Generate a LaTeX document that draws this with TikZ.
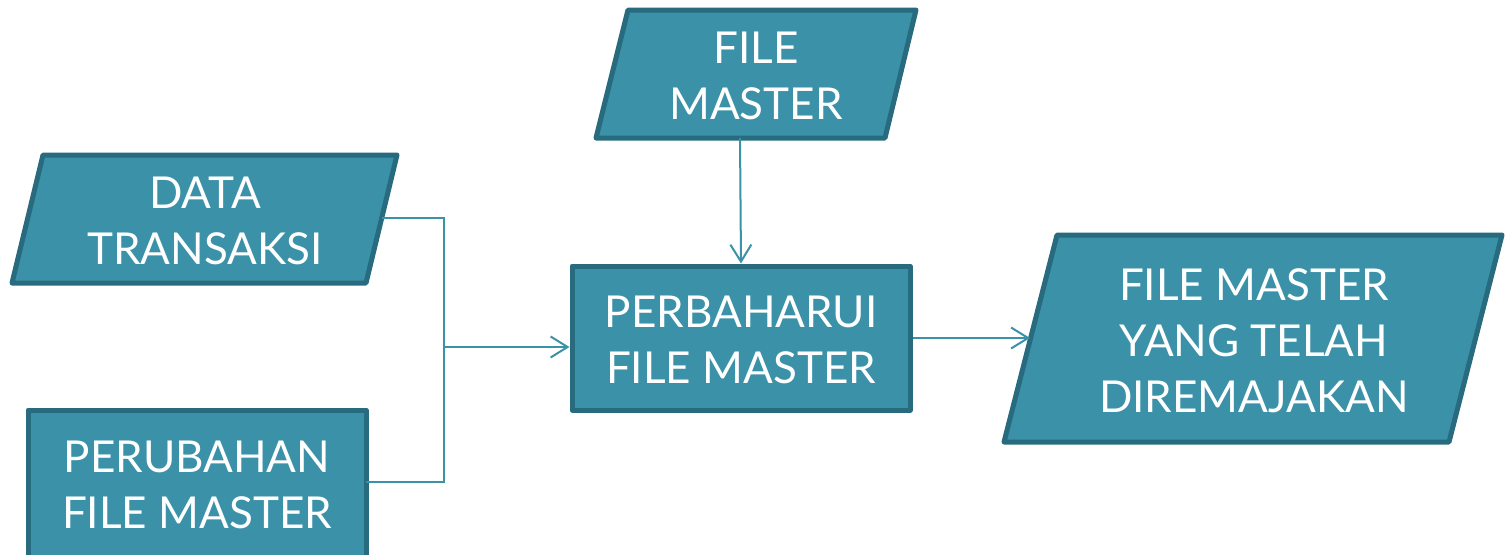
\documentclass[tikz,border=0pt]{standalone}
\usepackage{fontspec}
\setmainfont{Lato}
\usetikzlibrary{arrows.meta,calc}
\definecolor{fillc}{RGB}{58,145,168}
\definecolor{edgec}{RGB}{40,106,126}
\definecolor{linec}{RGB}{58,145,168}
\tikzset{
  shp/.style={fill=fillc,draw=edgec,line width=5pt,line join=round},
  lbl/.style={text=white,align=center,font=\fontsize{44}{56}\selectfont,inner sep=0pt},
  conn/.style={draw=linec,line width=2pt},
  arr/.style={conn,-{Straight Barb[length=17pt,width=21pt,line width=2pt]}}
}
\begin{document}
\begin{tikzpicture}[x=1pt,y=-1pt]
\useasboundingbox (0,0) rectangle (1506,554);
% DATA TRANSAKSI
\coordinate (dtTL) at (43,155); \coordinate (dtTR) at (397,155);
\coordinate (dtBR) at (366,283); \coordinate (dtBL) at (12,283);
\draw[shp] (dtTL) -- (dtTR) -- (dtBR) -- (dtBL) -- cycle;
\node[lbl] (dt) at (205,221) {DATA\\TRANSAKSI};
\coordinate (dtE) at (382,218);
% PERUBAHAN FILE MASTER
\draw[shp] (28,410) rectangle (366,558);
\node[lbl] (pf) at (197,485) {PERUBAHAN\\FILE MASTER};
\coordinate (pfE) at (366,482);
% FILE MASTER
\coordinate (fmTL) at (628,10); \coordinate (fmTR) at (916,10);
\coordinate (fmBR) at (885,138); \coordinate (fmBL) at (596,138);
\draw[shp] (fmTL) -- (fmTR) -- (fmBR) -- (fmBL) -- cycle;
\node[lbl] (fm) at (756,76) {FILE\\MASTER};
\coordinate (fmS) at (740,138);
% PERBAHARUI
\node[shp,minimum width=338pt,minimum height=144pt,inner sep=0pt] (upd) at (741,338) {};
\node[lbl] (updt) at (741,340) {PERBAHARUI\\FILE MASTER};
% OUTPUT
\coordinate (oTL) at (1057,235); \coordinate (oTR) at (1502,235);
\coordinate (oBR) at (1449,442); \coordinate (oBL) at (1004,442);
\draw[shp] (oTL) -- (oTR) -- (oBR) -- (oBL) -- cycle;
\node[lbl] (out) at (1254,341) {FILE MASTER\\YANG TELAH\\DIREMAJAKAN};
\coordinate (oW) at (1030,338);
% connectors
\coordinate (jn) at (444,347);
\coordinate (jnT) at (444,218);
\coordinate (jnB) at (444,482);
\draw[conn] (dtE) -- (jnT) -- (jnB) -- (pfE);
\draw[arr] (jn) -- (jn -| upd.west);
\draw[arr] (fmS) -- (upd.north);
\draw[arr] (upd.east) -- (oW);
\end{tikzpicture}
\end{document}
